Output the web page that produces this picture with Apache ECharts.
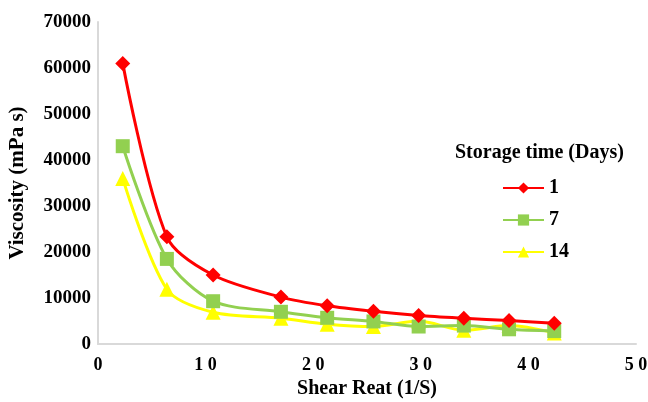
<!DOCTYPE html>
<html>
<head>
<meta charset="utf-8">
<script src="https://cdn.jsdelivr.net/npm/echarts@6/dist/echarts.min.js"></script>
<style>
  html, body { margin: 0; padding: 0; background: #fff; }
  #chart { width: 648px; height: 402px; }
</style>
</head>
<body>
<div id="chart"></div>
<script>
// shear rate (1/S)
var shearRate = [2.3, 6.4, 10.7, 17, 21.3, 25.6, 29.8, 34, 38.2, 42.4]
// viscosity (mPa s) per storage time
var day1 = [61000, 23300, 15000, 10200, 8300, 7100, 6200, 5600, 5100, 4500]
var day7 = [43000, 18500, 9300, 7000, 5700, 4900, 3800, 4000, 3200, 2800]
var day14 = [36000, 11900, 6900, 5600, 4300, 3800, 5000, 3000, 4000, 2400]
var seriesNames = ['1', '7', '14']

function pairs (ys) {
  return ys.map(function (v, i) { return [shearRate[i], v] })
}

var font = 'Liberation Serif'
var myChart = echarts.init(document.getElementById('chart'))

function line (name, ys, color, symbol, size) {
  return {
    name: name,
    type: 'line',
    data: pairs(ys),
    smooth: 0.3,
    symbol: symbol,
    symbolSize: size,
    lineStyle: { color: color, width: 3 },
    itemStyle: { color: color },
    z: 10 - seriesNames.indexOf(name)
  }
}

var option = {
  animation: false,
  title: {
    text: 'Storage time (Days)',
    left: 450,
    top: 138,
    textStyle: { fontFamily: font, fontWeight: 'bold', fontSize: 20, color: '#000' }
  },
  legend: {
    orient: 'vertical',
    left: 497,
    top: 173,
    itemWidth: 41,
    itemHeight: 14,
    itemGap: 12,
    data: seriesNames,
    textStyle: { fontFamily: font, fontWeight: 'bold', fontSize: 20, color: '#000' }
  },
  grid: { left: 98, right: 12, top: 22, bottom: 58, outerBoundsMode: 'none' },
  xAxis: {
    type: 'value',
    min: 0,
    max: 50,
    interval: 10,
    name: 'Shear Reat (1/S)',
    nameLocation: 'middle',
    nameGap: 35,
    nameTextStyle: { fontFamily: font, fontWeight: 'bold', fontSize: 20, color: '#000' },
    axisLine: { show: true, lineStyle: { color: '#d9d9d9', width: 2 } },
    axisTick: { show: false },
    splitLine: { show: false },
    axisLabel: {
      margin: 12,
      fontFamily: font,
      fontWeight: 'bold',
      fontSize: 18,
      color: '#000',
      formatter: function (v) { return String(v).split('').join(' ') }
    }
  },
  yAxis: {
    type: 'value',
    min: 0,
    max: 70000,
    interval: 10000,
    name: 'Viscosity (mPa s)',
    nameLocation: 'middle',
    nameGap: 70,
    nameTextStyle: { fontFamily: font, fontWeight: 'bold', fontSize: 21, color: '#000' },
    axisLine: { show: true, lineStyle: { color: '#d9d9d9', width: 2 } },
    axisTick: { show: false },
    splitLine: { show: false },
    axisLabel: {
      margin: 7,
      fontFamily: font,
      fontWeight: 'bold',
      fontSize: 19,
      color: '#000',
      formatter: function (v) { return String(v) }
    }
  },
  series: [
    line('1', day1, '#ff0000', 'diamond', 15),
    line('7', day7, '#92d050', 'rect', 14),
    line('14', day14, '#ffff00', 'triangle', 15)
  ]
}
myChart.setOption(option)
</script>
</body>
</html>
